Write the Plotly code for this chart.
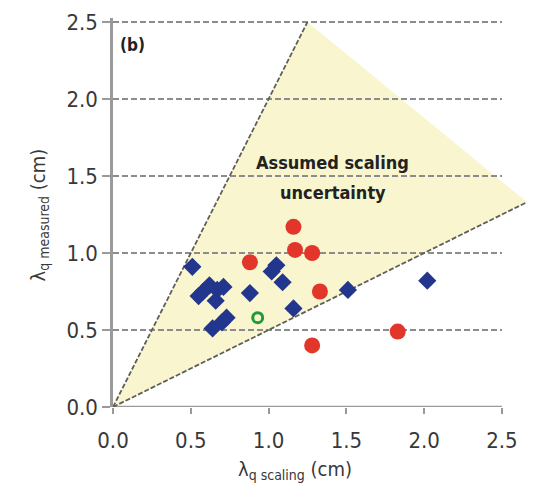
import plotly.graph_objects as go

# Data
blue_x = [0.51, 0.55, 0.58, 0.62, 0.67, 0.71, 0.66, 0.88, 1.05, 1.02, 1.09, 1.16, 0.64, 0.70, 0.73, 1.51, 2.02]
blue_y = [0.91, 0.72, 0.75, 0.79, 0.76, 0.78, 0.69, 0.74, 0.92, 0.88, 0.81, 0.64, 0.51, 0.55, 0.58, 0.76, 0.82]
red_x = [0.88, 1.16, 1.17, 1.28, 1.33, 1.28, 1.83]
red_y = [0.94, 1.17, 1.02, 1.00, 0.75, 0.40, 0.49]
green_x = [0.93]
green_y = [0.58]

upper_slope = 2.0
lower_slope = 0.5
x_max = 2.661
y_max = 2.526
tick_vals = [0.0, 0.5, 1.0, 1.5, 2.0, 2.5]
grid_vals = [0.5, 1.0, 1.5, 2.0, 2.5]

FONT = "DejaVu Sans Condensed, Liberation Sans Narrow, Arial Narrow, Liberation Sans, sans-serif"
TXT = "#383838"

fig = go.Figure()

# Uncertainty wedge
apex_x = 2.5 / upper_slope
fig.add_trace(go.Scatter(
    x=[0, apex_x, x_max, 0], y=[0, 2.5, lower_slope * x_max, 0],
    fill="toself", fillcolor="#f9f6cf", line=dict(width=0),
    mode="lines", hoverinfo="skip", showlegend=False))

# dashed horizontal grid lines (end at x = 2.5 as in the reference)
for g in grid_vals:
    fig.add_trace(go.Scatter(
        x=[0, 2.5], y=[g, g], mode="lines", hoverinfo="skip",
        line=dict(color="#8c8c8c", width=1.8, dash="6px,3px"), showlegend=False))

# x-axis line (ends at 2.5)
fig.add_trace(go.Scatter(
    x=[0, 2.5], y=[0, 0], mode="lines", hoverinfo="skip", cliponaxis=False,
    line=dict(color="#9a9a9a", width=2.5), showlegend=False))

fig.add_trace(go.Scatter(
    x=[0, apex_x], y=[0, upper_slope * apex_x], mode="lines",
    line=dict(color="#5f5f58", width=1.8, dash="5px,2px"), showlegend=False))
fig.add_trace(go.Scatter(
    x=[0, x_max], y=[0, lower_slope * x_max], mode="lines",
    line=dict(color="#5f5f58", width=1.8, dash="5px,2px"), showlegend=False))

fig.add_trace(go.Scatter(
    x=blue_x, y=blue_y, mode="markers",
    marker=dict(symbol="diamond", size=14, color="#22368e",
                line=dict(width=0)), showlegend=False))
fig.add_trace(go.Scatter(
    x=red_x, y=red_y, mode="markers",
    marker=dict(symbol="circle", size=16, color="#e2362b",
                line=dict(width=0)), showlegend=False))
fig.add_trace(go.Scatter(
    x=green_x, y=green_y, mode="markers",
    marker=dict(symbol="circle-open", size=10, color="#1e9a3c",
                line=dict(width=3)), showlegend=False))

fig.add_annotation(x=1.414, y=1.59, text="<b>Assumed scaling</b>",
                   showarrow=False, font=dict(family=FONT, size=18, color="#222"),
                   xanchor="center", yanchor="middle")
fig.add_annotation(x=1.414, y=1.39, text="<b>uncertainty</b>",
                   showarrow=False, font=dict(family=FONT, size=18, color="#222"),
                   xanchor="center", yanchor="middle")
fig.add_annotation(x=0.035, y=2.35, text="<b>(b)</b>", showarrow=False,
                   font=dict(family=FONT, size=17, color="#222"),
                   xanchor="left", yanchor="middle")

# axis titles
fig.add_annotation(xref="paper", yref="paper", x=0, y=0, xshift=182, yshift=-63,
                   text="λ<sub>q scaling</sub> (cm)", showarrow=False,
                   font=dict(family=FONT, size=20, color=TXT),
                   xanchor="center", yanchor="middle")
fig.add_annotation(xref="paper", yref="paper", x=0, y=0.5, xshift=-75, yshift=-3,
                   text="λ<sub>q measured</sub> (cm)", showarrow=False, textangle=-90,
                   font=dict(family=FONT, size=20, color=TXT),
                   xanchor="center", yanchor="middle")

fig.update_layout(
    width=527, height=482,
    margin=dict(l=105, r=8, t=10, b=83, autoexpand=False),
    plot_bgcolor="white", paper_bgcolor="white",
    font=dict(family=FONT, color=TXT),
)
fig.update_xaxes(
    range=[0, x_max], tickvals=tick_vals, ticktext=[f"{v:.1f}" for v in tick_vals],
    showgrid=False, zeroline=False, showline=False,
    ticks="outside", ticklen=6, tickcolor="#9a9a9a", tickwidth=2, automargin=False,
    ticklabelstandoff=8,
    tickfont=dict(family=FONT, size=22, color=TXT),
)
fig.update_yaxes(
    range=[0, y_max], tickvals=tick_vals, ticktext=[f"{v:.1f}" for v in tick_vals],
    showgrid=False, zeroline=False, showline=True, linecolor="#9a9a9a", linewidth=2.5,
    ticks="outside", ticklen=8, tickcolor="#9a9a9a", tickwidth=2, automargin=False,
    tickfont=dict(family=FONT, size=22, color=TXT),
)

fig.write_html("out.html")
